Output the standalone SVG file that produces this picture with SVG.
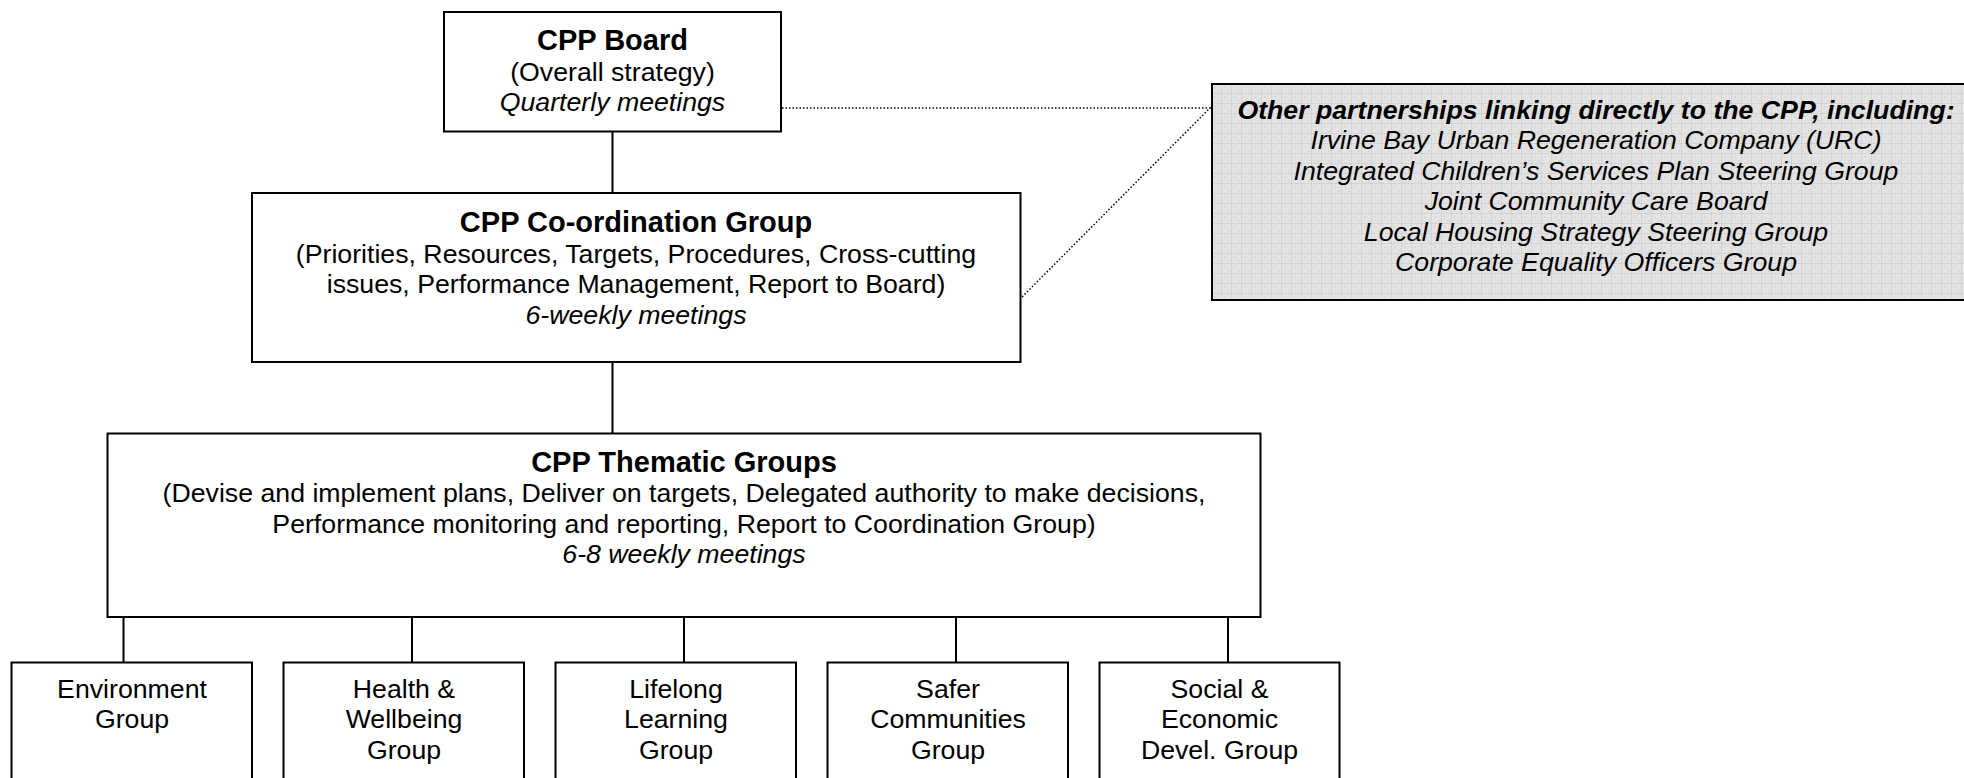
<svg xmlns="http://www.w3.org/2000/svg" width="1964" height="778" viewBox="0 0 1964 778">
<defs>
<pattern id="grid" x="1212" y="84" width="10" height="10" patternUnits="userSpaceOnUse">
<rect width="10" height="10" fill="#e3e3e3"/>
<rect x="2" y="2" width="2" height="2" fill="#dadada"/>
<rect x="6" y="6" width="2" height="2" fill="#dadada"/>
<rect x="9.5" y="0" width="1" height="10" fill="#c6c6c6"/>
<rect x="0" y="9.5" width="10" height="1" fill="#c6c6c6"/>
</pattern>
</defs>
<style>
.box{fill:#fff;stroke:#000;stroke-width:2}
.t{font-family:"Liberation Sans",Arial,sans-serif;font-size:26.7px;fill:#000;text-anchor:middle}
.h{font-weight:bold;font-size:29px}
.i{font-style:italic}
.b{font-weight:bold}
.ln{stroke:#000;stroke-width:2;fill:none}
.dot{stroke:#000;stroke-width:1.5;stroke-dasharray:1.5 2;fill:none}
</style>
<rect width="1964" height="778" fill="#fff"/>
<g id="connectors">
<line class="ln" x1="612.5" y1="132" x2="612.5" y2="193"/>
<line class="ln" x1="612.5" y1="362" x2="612.5" y2="433"/>
<line class="ln" x1="123.5" y1="617" x2="123.5" y2="662"/>
<line class="ln" x1="412" y1="617" x2="412" y2="662"/>
<line class="ln" x1="684" y1="617" x2="684" y2="662"/>
<line class="ln" x1="956" y1="617" x2="956" y2="662"/>
<line class="ln" x1="1228" y1="617" x2="1228" y2="662"/>
<polyline class="dot" points="782,108 1210,108 1021,298"/>
</g>
<g id="board">
<rect class="box" x="444" y="12" width="337" height="119.5"/>
<text class="t h" x="612.5" y="50">CPP Board</text>
<text class="t" x="612.5" y="80.5">(Overall strategy)</text>
<text class="t i" x="612.5" y="111">Quarterly meetings</text>
</g>
<g id="coordination">
<rect class="box" x="252" y="193" width="768.5" height="169"/>
<text class="t h" x="636" y="232">CPP Co-ordination Group</text>
<text class="t" x="636" y="262.5">(Priorities, Resources, Targets, Procedures, Cross-cutting</text>
<text class="t" x="636" y="293">issues, Performance Management, Report to Board)</text>
<text class="t i" x="636" y="323.5">6-weekly meetings</text>
</g>
<g id="thematic">
<rect class="box" x="107.5" y="433.5" width="1153" height="183.5"/>
<text class="t h" x="684" y="471.5">CPP Thematic Groups</text>
<text class="t" x="684" y="502">(Devise and implement plans, Deliver on targets, Delegated authority to make decisions,</text>
<text class="t" x="684" y="532.5">Performance monitoring and reporting, Report to Coordination Group)</text>
<text class="t i" x="684" y="563">6-8 weekly meetings</text>
</g>
<g id="environment">
<rect class="box" x="11.5" y="662.5" width="240.5" height="140"/>
<text class="t" x="132" y="697.5">Environment</text>
<text class="t" x="132" y="728">Group</text>
</g>
<g id="health">
<rect class="box" x="283.5" y="662.5" width="240.5" height="140"/>
<text class="t" x="404" y="697.5">Health &amp;</text>
<text class="t" x="404" y="728">Wellbeing</text>
<text class="t" x="404" y="758.5">Group</text>
</g>
<g id="lifelong">
<rect class="box" x="555.5" y="662.5" width="240.5" height="140"/>
<text class="t" x="676" y="697.5">Lifelong</text>
<text class="t" x="676" y="728">Learning</text>
<text class="t" x="676" y="758.5">Group</text>
</g>
<g id="safer">
<rect class="box" x="827.5" y="662.5" width="240.5" height="140"/>
<text class="t" x="948" y="697.5">Safer</text>
<text class="t" x="948" y="728">Communities</text>
<text class="t" x="948" y="758.5">Group</text>
</g>
<g id="social">
<rect class="box" x="1099.5" y="662.5" width="240" height="140"/>
<text class="t" x="1219.5" y="697.5">Social &amp;</text>
<text class="t" x="1219.5" y="728">Economic</text>
<text class="t" x="1219.5" y="758.5">Devel. Group</text>
</g>
<g id="other">
<rect x="1212" y="84" width="770" height="216" fill="url(#grid)" stroke="#000" stroke-width="2"/>
<text class="t i b" x="1596" y="119">Other partnerships linking directly to the CPP, including:</text>
<text class="t i" x="1596" y="149">Irvine Bay Urban Regeneration Company (URC)</text>
<text class="t i" x="1596" y="179.5">Integrated Children’s Services Plan Steering Group</text>
<text class="t i" x="1596" y="210">Joint Community Care Board</text>
<text class="t i" x="1596" y="240.5">Local Housing Strategy Steering Group</text>
<text class="t i" x="1596" y="271">Corporate Equality Officers Group</text>
</g>
</svg>
